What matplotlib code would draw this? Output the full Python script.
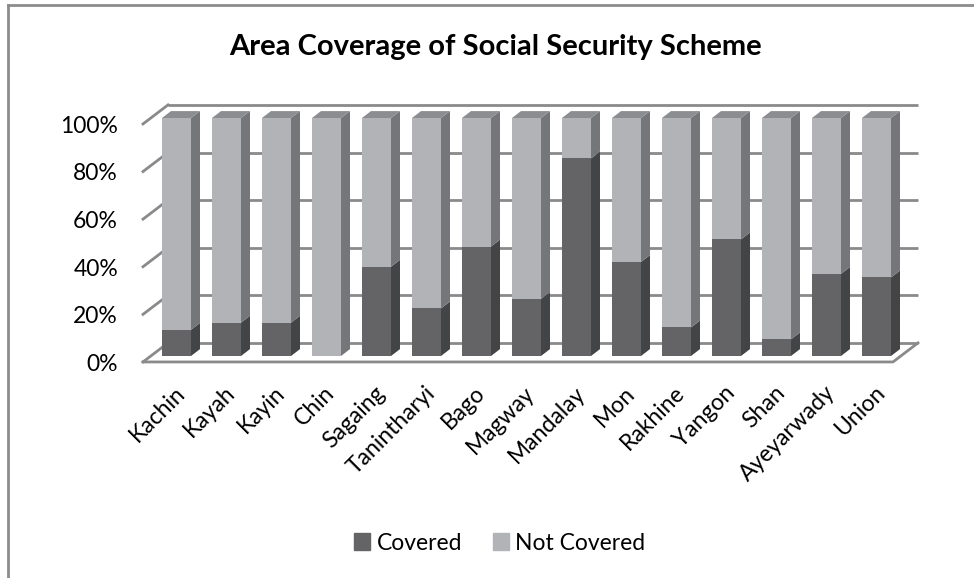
import matplotlib.pyplot as plt
from matplotlib.patches import Polygon, Patch
from matplotlib.lines import Line2D

plt.rcParams["font.family"] = ["Lato", "DejaVu Sans"]

# data (% of area)
regions = ["Kachin", "Kayah", "Kayin", "Chin", "Sagaing", "Tanintharyi", "Bago",
           "Magway", "Mandalay", "Mon", "Rakhine", "Yangon", "Shan", "Ayeyarwady", "Union"]
covered = [11, 14, 14, 0, 37.5, 20, 46, 24, 83, 39.5, 12, 49, 7, 34.5, 33]
not_covered = [100 - c for c in covered]
yticks = [0, 20, 40, 60, 80, 100]

# colours
cov_front, cov_side = "#646466", "#434446"
nc_front, nc_side, nc_top = "#b2b3b6", "#75767a", "#8c8d90"
grid_col = "#8a8a8a"

# fake 3d settings (data units)
bw = 0.58          # bar width
bd, bh = 0.18, 2.9 # bar depth offset
fx0, fy0 = -0.67, -2.5   # front floor edge
bx_off, by_off = 0.5, 8  # front -> back wall offset
xr = 14.33
fs = 16.5

W, H = 974, 578
fig = plt.figure(figsize=(W / 100, H / 100), dpi=100)
ax = fig.add_axes([101.5 / W, (H - 403.6) / H, 850 / W, (403.6 - 94.2) / H])
ax.set_xlim(-1.5, 15.5)
ax.set_ylim(-20, 110)
ax.axis("off")

# back wall gridlines + left side lines
for k in yticks:
    ax.plot([fx0 + bx_off, xr + bx_off], [k + fy0 + by_off] * 2, color=grid_col, lw=2, zorder=1,
            solid_capstyle="butt")
    ax.plot([fx0, fx0 + bx_off], [k + fy0, k + fy0 + by_off], color=grid_col, lw=2, zorder=1)
    ax.text(fx0 - 0.5, k - 3.5, f"{k}%", ha="right", va="center", fontsize=fs)
# floor
ax.plot([fx0, xr, xr + bx_off], [fy0, fy0, fy0 + by_off], color=grid_col, lw=2, zorder=1)

x = list(range(len(regions)))
ax.bar(x, covered, width=bw, color=cov_front, zorder=3, label="Covered")
ax.bar(x, not_covered, width=bw, bottom=covered, color=nc_front, zorder=3, label="Not Covered")

for i in x:
    r = i + bw / 2
    c = covered[i]
    if c > 0:
        ax.add_patch(Polygon([(r, 0), (r + bd, bh), (r + bd, c + bh), (r, c)],
                             closed=True, color=cov_side, lw=0, zorder=3))
    ax.add_patch(Polygon([(r, c), (r + bd, c + bh), (r + bd, 100 + bh), (r, 100)],
                         closed=True, color=nc_side, lw=0, zorder=3))
    ax.add_patch(Polygon([(i - bw / 2, 100), (i - bw / 2 + bd, 100 + bh), (r + bd, 100 + bh), (r, 100)],
                         closed=True, color=nc_top, lw=0, zorder=3))
    ax.text(i - 0.05, -11, regions[i], rotation=45, rotation_mode="anchor",
            ha="right", va="top", fontsize=fs)

fig.text(495 / W, 1 - 47 / H, "Area Coverage of Social Security Scheme",
         ha="center", va="center", fontsize=21, fontweight="bold")

handles = [Patch(color=cov_front, label="Covered"), Patch(color=nc_front, label="Not Covered")]
fig.legend(handles=handles, loc="center", bbox_to_anchor=(500 / W, 35 / H), ncol=2,
           frameon=False, fontsize=fs, handlelength=0.7, handleheight=0.7,
           handletextpad=0.3, columnspacing=1.3)

# chart frame
fig.add_artist(Line2D([8 / W, 8 / W], [0, 1 - 5 / H], color="#8c8c8c", lw=2))
fig.add_artist(Line2D([8 / W, 1], [1 - 5 / H, 1 - 5 / H], color="#8c8c8c", lw=2))

fig.savefig("out.png", dpi=100)
